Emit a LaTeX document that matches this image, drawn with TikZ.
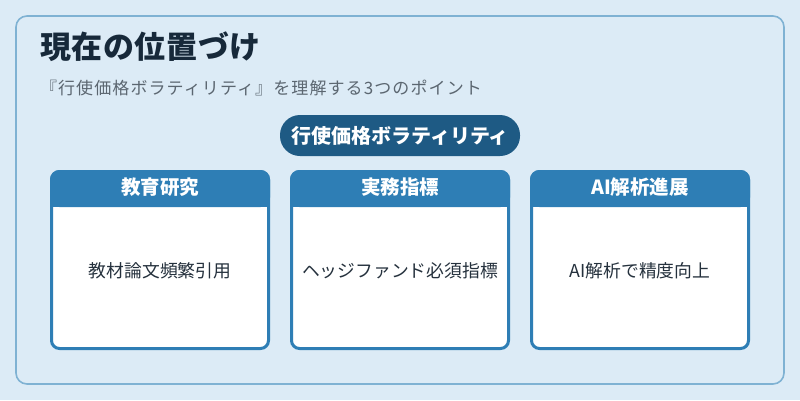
\documentclass[tikz,border=0pt]{standalone}
\usepackage{fontspec}
\setmainfont{Noto Sans CJK JP}
\usepackage{tikz}
\usetikzlibrary{
positioning,
shapes.misc,
}
\definecolor{pagebg}{HTML}{DCEBF6}
\definecolor{framecol}{HTML}{7FB2D3}
\definecolor{headcol}{HTML}{2E7EB5}
\definecolor{pillcol}{HTML}{1E5A84}
\definecolor{titlecol}{HTML}{17293A}
\definecolor{subcol}{HTML}{5B6670}
\definecolor{bodycol}{HTML}{25313D}
\tikzset{
node distance=23pt,
outer sep=0pt,
every node/.style={align=center},
heading/.style={inner sep=0pt, anchor=west, text=titlecol,
  font=\fontsize{31}{36}\selectfont\bfseries\addfontfeature{LetterSpace=2}},
subheading/.style={inner sep=0pt, anchor=west, text=subcol,
  font=\fontsize{17}{20}\selectfont\addfontfeature{LetterSpace=6.5}},
pill/.style={rectangle, rounded corners=20pt, fill=pillcol, text=white,
  minimum width=240pt, minimum height=41pt, inner sep=0pt,
  font=\fontsize{20}{24}\selectfont\bfseries},
card/.style={rectangle, rounded corners=8pt, draw=headcol, fill=white,
  line width=3pt, minimum width=217pt, minimum height=177pt, inner sep=0pt},
cardhead/.style={rectangle, rounded corners=8pt, draw=headcol, fill=headcol,
  line width=3pt, minimum width=217pt, minimum height=34pt, inner sep=0pt},
headtext/.style={inner sep=0pt, text=white,
  font=\fontsize{19.5}{23}\selectfont\bfseries},
cardtext/.style={inner sep=0pt, text=bodycol,
  font=\fontsize{17.8}{21}\selectfont},
}

\begin{document}
\begin{tikzpicture}[x=1pt, y=-1pt]
\fill[pagebg] (0,0) rectangle (800,400);
\useasboundingbox (0,0) rectangle (800,400);
\draw[framecol, line width=1.6pt, rounded corners=11pt] (16,16) rectangle (784,384);

\node (title) [heading] at (40,47) {現在の位置づけ};
\node (sub) [subheading] at (40,88) {『行使価格ボラティリティ』を理解する3つのポイント};
\node (theme) [pill] at (400,135.5) {行使価格ボラティリティ};

% three cards
\node (c1) [card] at (160,260) {};
\node (c2) [card, right=of c1] {};
\node (c3) [card, right=of c2] {};
\foreach \c/\head/\body in {c1/教育研究/教材論文頻繁引用,
    c2/実務指標/ヘッジファンド必須指標,
    c3/AI解析進展/AI解析で精度向上}{
  \node (\c h) [cardhead, below=0pt of \c.north] {};
  \fill[headcol] ([xshift=-1.5pt]\c h.west) rectangle ([xshift=1.5pt,yshift=-1.5pt]\c h.south east);
  \node (\c l) [headtext] at ([yshift=1pt]\c h.center) {\head};
  \node (\c t) [cardtext] at ([yshift=-11pt]\c.center) {\body};
}
\end{tikzpicture}
\end{document}
